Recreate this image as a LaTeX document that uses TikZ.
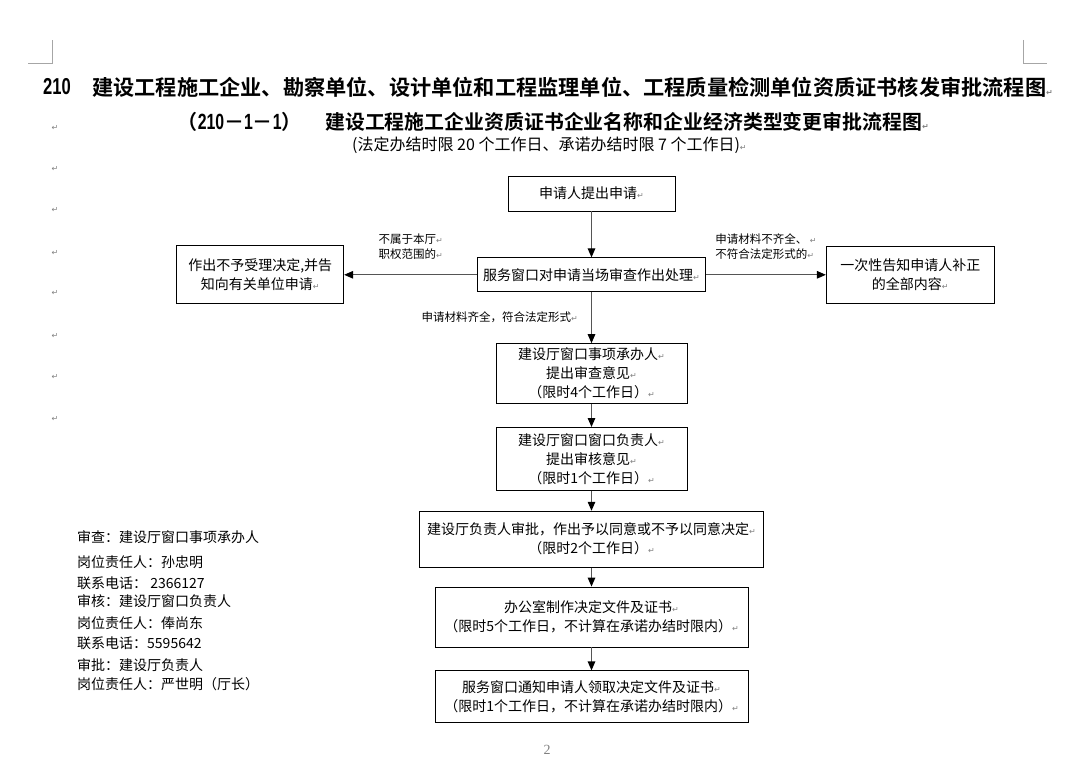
\documentclass[tikz,border=0pt]{standalone}
\usepackage{fontspec}
\usepackage{xcolor}
\usetikzlibrary{arrows.meta, positioning}
\setmainfont{Noto Sans CJK SC}[BoldFont={Noto Sans CJK SC Bold}]
\newfontfamily\narrowbold{Liberation Sans}[FakeStretch=0.72]
\newfontfamily\markfont{DejaVu Sans}
\newfontfamily\pagefont{Liberation Serif}
\definecolor{linegray}{RGB}{85,85,85}
\definecolor{markgray}{RGB}{128,128,128}
\newcommand{\pmark}{{\markfont\fontsize{8}{8}\selectfont\color{markgray}↵}}
\newcommand{\boxfont}{\fontsize{14}{19}\selectfont}
\newcommand{\notefont}{\fontsize{11.5}{15}\selectfont}

\begin{document}
\begin{tikzpicture}[
    x=1pt, y=-1pt,
    block/.style={
        rectangle,
        draw=black,
        line width=0.8pt,
        inner sep=0pt,
        align=center,
        font=\boxfont
    },
    arrow/.style={-{Triangle[length=9pt,width=7.5pt,color=black]}, line width=1.2pt, draw=linegray},
    note/.style={align=left, inner sep=0pt, font=\notefont},
    info/.style={anchor=west, inner sep=0pt, font=\boxfont},
    crop/.style={draw=markgray!70, line width=0.8pt}
]
\useasboundingbox (0,0) rectangle (1086,775);

% page corners
\draw[crop] (28,63) -- (52,63) -- (52,40);
\draw[crop] (1023,40) -- (1023,63) -- (1047,63);

% titles
\node[anchor=west, inner sep=0pt, font={\narrowbold\bfseries\fontsize{23}{23}\selectfont}] (num) at (43,87) {210};
\node[anchor=west, inner sep=0pt, font={\bfseries\fontsize{21.2}{21.2}\selectfont}] (title) at (92,87) {建设工程施工企业、勘察单位、设计单位和工程监理单位、工程质量检测单位资质证书核发审批流程图\pmark};
\node[anchor=east, inner sep=0pt, font={\bfseries\fontsize{20}{20}\selectfont}] (subnum) at (302,122) {（{\narrowbold\fontsize{22}{22}\selectfont 210}－{\narrowbold\fontsize{22}{22}\selectfont 1}－{\narrowbold\fontsize{22}{22}\selectfont 1}）};
\node[anchor=west, inner sep=0pt, font={\bfseries\fontsize{19.9}{19.9}\selectfont}] (subtitle) at (325,122) {建设工程施工企业资质证书企业名称和企业经济类型变更审批流程图\pmark};
\node[anchor=west, inner sep=0pt, font={\fontsize{16}{16}\selectfont}] (limits) at (352,145) {(法定办结时限 20 个工作日、承诺办结时限 7 个工作日)\pmark};

% left paragraph marks
\foreach \y [count=\i] in {128,169,210,253,293,336,377,419}
    \node[inner sep=0pt] (mark\i) at (55,\y) {\pmark};

% flow
\node[block, minimum width=167pt, minimum height=35pt] (apply) at (591.5,193.5) {申请人提出申请\pmark};
\node[block, minimum width=228pt, minimum height=34pt, below=46pt of apply] (check) {服务窗口对申请当场审查作出处理\pmark};
\node[block, minimum width=167pt, minimum height=58pt, left=133pt of check] (reject) {作出不予受理决定,并告\\知向有关单位申请\pmark};
\node[block, minimum width=168pt, minimum height=57pt, right=120pt of check] (notify) {一次性告知申请人补正\\的全部内容\pmark};
\node[block, minimum width=191pt, minimum height=60pt, below=51pt of check] (opinion) {建设厅窗口事项承办人\pmark\\提出审查意见\pmark\\（限时4个工作日）\pmark};
\node[block, minimum width=191pt, minimum height=63pt, below=23pt of opinion] (review) {建设厅窗口窗口负责人\pmark\\提出审核意见\pmark\\（限时1个工作日）\pmark};
\node[block, minimum width=344pt, minimum height=56pt, below=20pt of review] (approve) {建设厅负责人审批，作出予以同意或不予以同意决定\pmark\\（限时2个工作日）\pmark};
\node[block, minimum width=313pt, minimum height=60pt, below=19pt of approve] (issue) {办公室制作决定文件及证书\pmark\\（限时5个工作日，不计算在承诺办结时限内）\pmark};
\node[block, minimum width=313pt, minimum height=52pt, below=23pt of issue] (collect) {服务窗口通知申请人领取决定文件及证书\pmark\\（限时1个工作日，不计算在承诺办结时限内）\pmark};

\draw[arrow] (apply) -- (check);
\draw[arrow] (check) -- node[note, above=15pt] {不属于本厅\pmark\\职权范围的\pmark} (reject);
\draw[arrow] (check) -- node[note, above=15pt] {申请材料不齐全、 \pmark\\不符合法定形式的\pmark} (notify);
\draw[arrow] (check) -- node[note, left=13pt] {申请材料齐全，符合法定形式\pmark} (opinion);
\draw[arrow] (opinion) -- (review);
\draw[arrow] (review) -- (approve);
\draw[arrow] (approve) -- (issue);
\draw[arrow] (issue) -- (collect);

% contacts
\foreach \y/\txt [count=\i] in {537/审查：建设厅窗口事项承办人, 562/岗位责任人：孙忠明, 583/联系电话： 2366127, 601/审核：建设厅窗口负责人, 623/岗位责任人：俸尚东, 643/联系电话：5595642, 665/审批：建设厅负责人, 684/岗位责任人：严世明（厅长）}
    \node[info] (info\i) at (77,\y) {\txt};

\node[inner sep=0pt, text=markgray, font={\pagefont\fontsize{14}{14}\selectfont}] (pagenum) at (547,750) {2};
\end{tikzpicture}
\end{document}
